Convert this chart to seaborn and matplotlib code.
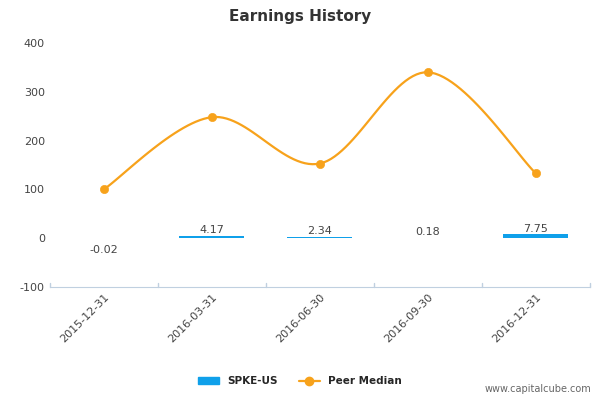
import numpy as np
import pandas as pd
import seaborn as sns
import matplotlib.pyplot as plt

dates = ['2015-12-31', '2016-03-31', '2016-06-30', '2016-09-30', '2016-12-31']
spke = [-0.02, 4.17, 2.34, 0.18, 7.75]
peer = [100, 248, 153, 340, 133]

sns.set_style('white')
plt.rcParams['axes.unicode_minus'] = False
fig = plt.figure(figsize=(6, 4), dpi=100)
ax = fig.add_axes([0.083, 0.2825, 0.9, 0.61])

df = pd.DataFrame({'date': dates, 'SPKE-US': spke})
sns.barplot(data=df, x='date', y='SPKE-US', color='#0fa0ea', width=0.6, ax=ax,
            saturation=1, edgecolor='none', linewidth=0)

# smooth curve through peer median points (Catmull-Rom)
x = np.arange(len(peer), dtype=float)
y = np.array(peer, dtype=float)
px = np.concatenate([[x[0]], x, [x[-1]]])
py = np.concatenate([[y[0]], y, [y[-1]]])
cx, cy = [], []
t = np.linspace(0, 1, 30)
for i in range(1, len(px) - 2):
    for arr, out in ((px, cx), (py, cy)):
        p0, p1, p2, p3 = arr[i - 1], arr[i], arr[i + 1], arr[i + 2]
        out.extend(0.5 * (2 * p1 + (-p0 + p2) * t + (2 * p0 - 5 * p1 + 4 * p2 - p3) * t ** 2
                          + (-p0 + 3 * p1 - 3 * p2 + p3) * t ** 3))
ax.plot(cx, cy, color='#f7a21b', lw=1.6)
sns.scatterplot(x=x, y=y, color='#f7a21b', s=35, edgecolor='#f7a21b', ax=ax, zorder=3, legend=False)

for i, v in enumerate(spke):
    yy = -24 if v < 0 else v + 12
    ax.text(i, yy, f'{v:.2f}', ha='center', va='center', fontsize=8, color='#444444')

ax.set_ylim(-100, 400)
ax.set_xlim(-0.5, 4.5)
ax.set_yticks(range(-100, 401, 100))
ax.tick_params(axis='y', length=0, labelsize=8, colors='#444444')
ax.set_xticks(np.arange(len(dates)))
ax.set_xticklabels(dates, rotation=45, ha='right', rotation_mode='anchor', fontsize=8, color='#444444')
ax.tick_params(axis='x', length=0)
for b in np.arange(-0.5, 5, 1):
    ax.plot([b, b], [-100, -92], color='#c0d0e0', lw=1, clip_on=False)
ax.set_xlabel('')
ax.set_ylabel('')
for s in ['top', 'right', 'left']:
    ax.spines[s].set_visible(False)
ax.spines['bottom'].set_color('#c0d0e0')
if ax.get_legend():
    ax.get_legend().remove()

fig.text(0.5, 0.96, 'Earnings History', ha='center', va='center', fontsize=11,
         color='#333333', fontweight='semibold')
h1 = plt.Rectangle((0, 0), 1, 1, color='#0fa0ea')
h2 = plt.Line2D([], [], color='#f7a21b', lw=1.6, marker='o', markersize=6)
fig.legend([h1, h2], ['SPKE-US', 'Peer Median'], loc='center', bbox_to_anchor=(0.5, 0.047),
           ncol=2, frameon=False, handlelength=2, prop={'weight': 'bold', 'size': 7.5})
fig.text(0.985, 0.02, 'www.capitalcube.com', ha='right', fontsize=7, color='#666666')
fig.savefig('out.png')
